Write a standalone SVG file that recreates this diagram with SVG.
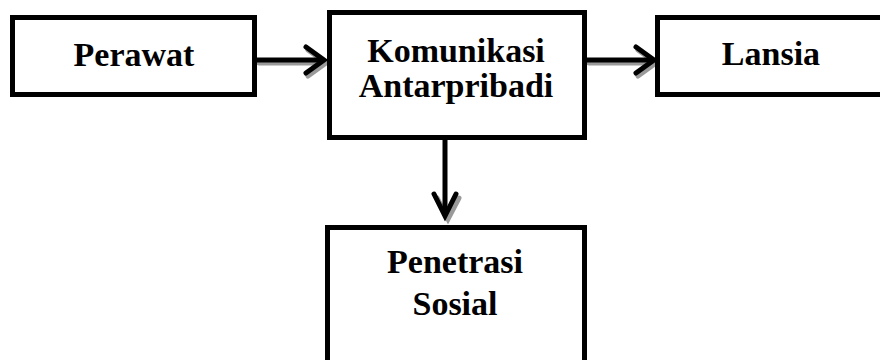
<svg xmlns="http://www.w3.org/2000/svg" width="880" height="360" viewBox="0 0 880 360">
<style>
.box{fill:#fff;stroke:#000;stroke-width:5}
.t{font-family:"Liberation Serif","Times New Roman",serif;font-weight:bold;font-size:34px;fill:#000;text-anchor:middle}
.ln{fill:none;stroke:#000;stroke-width:5;stroke-linejoin:miter}
.hd{fill:none;stroke:#000;stroke-width:5;stroke-linejoin:miter;stroke-linecap:round}
.sh{fill:none;stroke:#9a9a9a;stroke-width:5;stroke-linecap:round}
</style>
<rect width="880" height="360" fill="#fff"/>
<g id="connectors">
  <g id="c1">
    <line class="sh" x1="259" y1="63" x2="323" y2="63"/>
    <polyline class="sh" points="308,50 326,63 308,76"/>
    <line class="ln" x1="257" y1="60" x2="322" y2="60"/>
    <polyline class="hd" points="306,47 324,60 306,73"/>
  </g>
  <g id="c2">
    <line class="sh" x1="589" y1="63" x2="653" y2="63"/>
    <polyline class="sh" points="638,50 656,63 638,76"/>
    <line class="ln" x1="587" y1="60" x2="652" y2="60"/>
    <polyline class="hd" points="636,47 654,60 636,73"/>
  </g>
  <g id="c3">
    <polyline class="sh" points="437,198 448,219 459,198"/>
    <line class="ln" x1="445" y1="140" x2="445" y2="214"/>
    <polyline class="hd" points="434,194 445,216 456,194"/>
  </g>
</g>
<g id="perawat">
  <rect class="box" x="12.5" y="17.5" width="242" height="77"/>
  <text class="t" x="134" y="66">Perawat</text>
</g>
<g id="komunikasi">
  <rect class="box" x="329.5" y="12.5" width="255" height="125"/>
  <text class="t" x="456" y="62">Komunikasi</text>
  <text class="t" x="456" y="97">Antarpribadi</text>
</g>
<g id="lansia">
  <rect class="box" x="657.5" y="17.5" width="235" height="77"/>
  <text class="t" x="771" y="65">Lansia</text>
</g>
<g id="penetrasi">
  <rect class="box" x="327.5" y="227.5" width="257" height="150"/>
  <text class="t" x="455" y="273">Penetrasi</text>
  <text class="t" x="455" y="315">Sosial</text>
</g>
</svg>
